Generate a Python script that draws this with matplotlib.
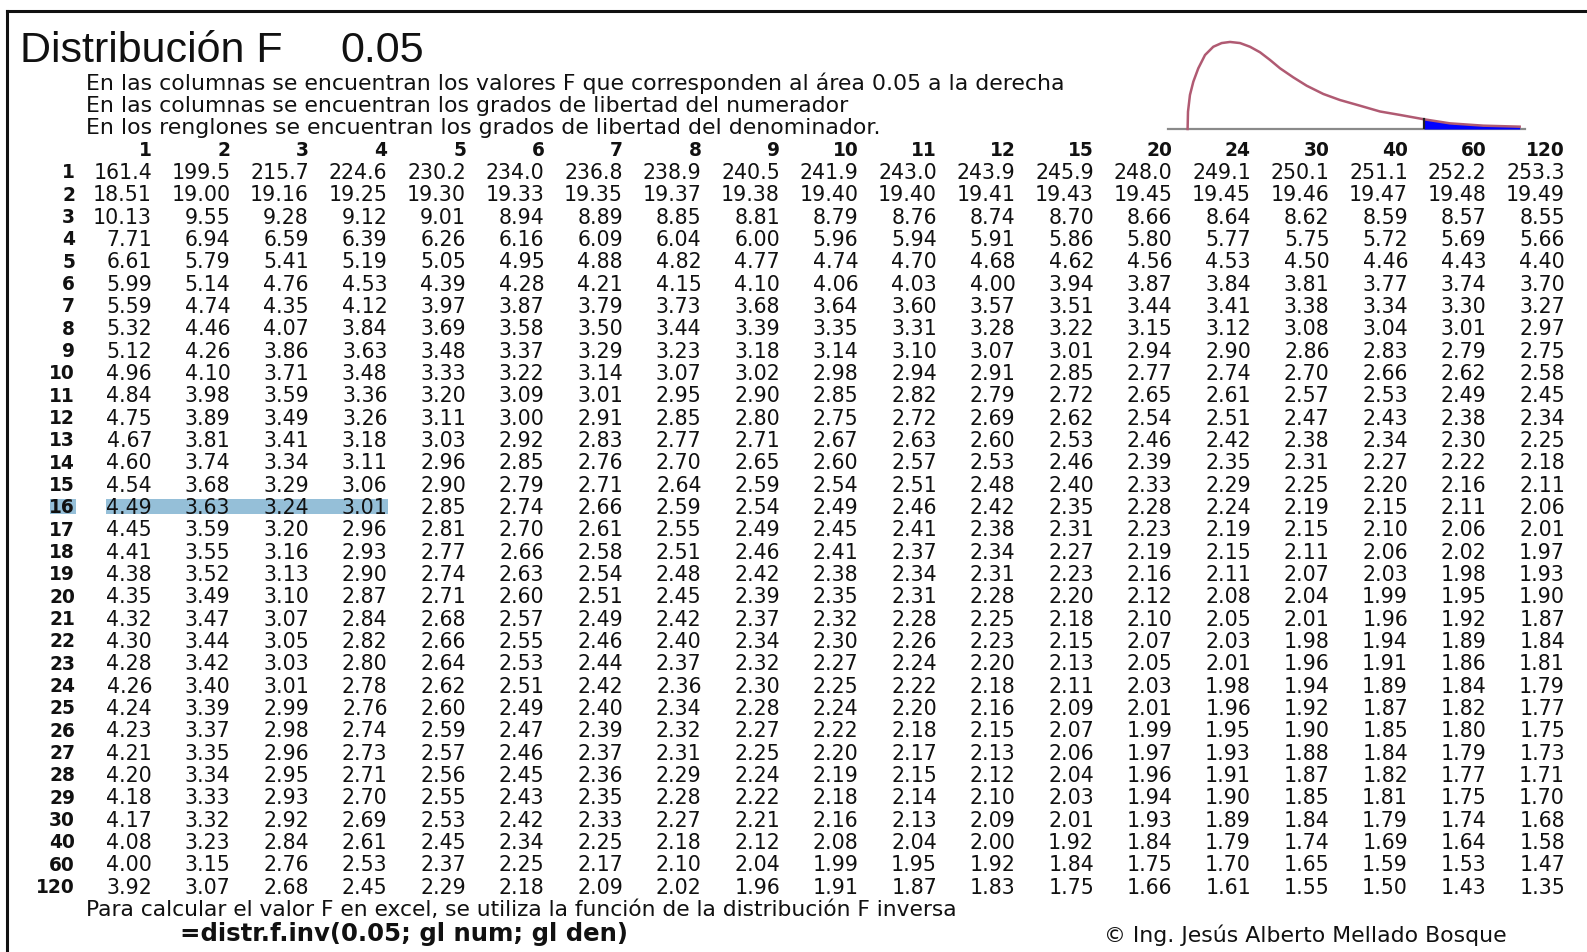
import matplotlib
matplotlib.use("Agg")
import matplotlib.pyplot as plt
from matplotlib.patches import Rectangle
import numpy as np

W, H = 1587, 952

# grados de libertad
num_df = [1, 2, 3, 4, 5, 6, 7, 8, 9, 10, 11, 12, 15, 20, 24, 30, 40, 60, 120]
den_df = list(range(1, 31)) + [40, 60, 120]

f_rows = [
    ["161.4", "199.5", "215.7", "224.6", "230.2", "234.0", "236.8", "238.9", "240.5", "241.9", "243.0", "243.9", "245.9", "248.0", "249.1", "250.1", "251.1", "252.2", "253.3"],
    ["18.51", "19.00", "19.16", "19.25", "19.30", "19.33", "19.35", "19.37", "19.38", "19.40", "19.40", "19.41", "19.43", "19.45", "19.45", "19.46", "19.47", "19.48", "19.49"],
    ["10.13", "9.55", "9.28", "9.12", "9.01", "8.94", "8.89", "8.85", "8.81", "8.79", "8.76", "8.74", "8.70", "8.66", "8.64", "8.62", "8.59", "8.57", "8.55"],
    ["7.71", "6.94", "6.59", "6.39", "6.26", "6.16", "6.09", "6.04", "6.00", "5.96", "5.94", "5.91", "5.86", "5.80", "5.77", "5.75", "5.72", "5.69", "5.66"],
    ["6.61", "5.79", "5.41", "5.19", "5.05", "4.95", "4.88", "4.82", "4.77", "4.74", "4.70", "4.68", "4.62", "4.56", "4.53", "4.50", "4.46", "4.43", "4.40"],
    ["5.99", "5.14", "4.76", "4.53", "4.39", "4.28", "4.21", "4.15", "4.10", "4.06", "4.03", "4.00", "3.94", "3.87", "3.84", "3.81", "3.77", "3.74", "3.70"],
    ["5.59", "4.74", "4.35", "4.12", "3.97", "3.87", "3.79", "3.73", "3.68", "3.64", "3.60", "3.57", "3.51", "3.44", "3.41", "3.38", "3.34", "3.30", "3.27"],
    ["5.32", "4.46", "4.07", "3.84", "3.69", "3.58", "3.50", "3.44", "3.39", "3.35", "3.31", "3.28", "3.22", "3.15", "3.12", "3.08", "3.04", "3.01", "2.97"],
    ["5.12", "4.26", "3.86", "3.63", "3.48", "3.37", "3.29", "3.23", "3.18", "3.14", "3.10", "3.07", "3.01", "2.94", "2.90", "2.86", "2.83", "2.79", "2.75"],
    ["4.96", "4.10", "3.71", "3.48", "3.33", "3.22", "3.14", "3.07", "3.02", "2.98", "2.94", "2.91", "2.85", "2.77", "2.74", "2.70", "2.66", "2.62", "2.58"],
    ["4.84", "3.98", "3.59", "3.36", "3.20", "3.09", "3.01", "2.95", "2.90", "2.85", "2.82", "2.79", "2.72", "2.65", "2.61", "2.57", "2.53", "2.49", "2.45"],
    ["4.75", "3.89", "3.49", "3.26", "3.11", "3.00", "2.91", "2.85", "2.80", "2.75", "2.72", "2.69", "2.62", "2.54", "2.51", "2.47", "2.43", "2.38", "2.34"],
    ["4.67", "3.81", "3.41", "3.18", "3.03", "2.92", "2.83", "2.77", "2.71", "2.67", "2.63", "2.60", "2.53", "2.46", "2.42", "2.38", "2.34", "2.30", "2.25"],
    ["4.60", "3.74", "3.34", "3.11", "2.96", "2.85", "2.76", "2.70", "2.65", "2.60", "2.57", "2.53", "2.46", "2.39", "2.35", "2.31", "2.27", "2.22", "2.18"],
    ["4.54", "3.68", "3.29", "3.06", "2.90", "2.79", "2.71", "2.64", "2.59", "2.54", "2.51", "2.48", "2.40", "2.33", "2.29", "2.25", "2.20", "2.16", "2.11"],
    ["4.49", "3.63", "3.24", "3.01", "2.85", "2.74", "2.66", "2.59", "2.54", "2.49", "2.46", "2.42", "2.35", "2.28", "2.24", "2.19", "2.15", "2.11", "2.06"],
    ["4.45", "3.59", "3.20", "2.96", "2.81", "2.70", "2.61", "2.55", "2.49", "2.45", "2.41", "2.38", "2.31", "2.23", "2.19", "2.15", "2.10", "2.06", "2.01"],
    ["4.41", "3.55", "3.16", "2.93", "2.77", "2.66", "2.58", "2.51", "2.46", "2.41", "2.37", "2.34", "2.27", "2.19", "2.15", "2.11", "2.06", "2.02", "1.97"],
    ["4.38", "3.52", "3.13", "2.90", "2.74", "2.63", "2.54", "2.48", "2.42", "2.38", "2.34", "2.31", "2.23", "2.16", "2.11", "2.07", "2.03", "1.98", "1.93"],
    ["4.35", "3.49", "3.10", "2.87", "2.71", "2.60", "2.51", "2.45", "2.39", "2.35", "2.31", "2.28", "2.20", "2.12", "2.08", "2.04", "1.99", "1.95", "1.90"],
    ["4.32", "3.47", "3.07", "2.84", "2.68", "2.57", "2.49", "2.42", "2.37", "2.32", "2.28", "2.25", "2.18", "2.10", "2.05", "2.01", "1.96", "1.92", "1.87"],
    ["4.30", "3.44", "3.05", "2.82", "2.66", "2.55", "2.46", "2.40", "2.34", "2.30", "2.26", "2.23", "2.15", "2.07", "2.03", "1.98", "1.94", "1.89", "1.84"],
    ["4.28", "3.42", "3.03", "2.80", "2.64", "2.53", "2.44", "2.37", "2.32", "2.27", "2.24", "2.20", "2.13", "2.05", "2.01", "1.96", "1.91", "1.86", "1.81"],
    ["4.26", "3.40", "3.01", "2.78", "2.62", "2.51", "2.42", "2.36", "2.30", "2.25", "2.22", "2.18", "2.11", "2.03", "1.98", "1.94", "1.89", "1.84", "1.79"],
    ["4.24", "3.39", "2.99", "2.76", "2.60", "2.49", "2.40", "2.34", "2.28", "2.24", "2.20", "2.16", "2.09", "2.01", "1.96", "1.92", "1.87", "1.82", "1.77"],
    ["4.23", "3.37", "2.98", "2.74", "2.59", "2.47", "2.39", "2.32", "2.27", "2.22", "2.18", "2.15", "2.07", "1.99", "1.95", "1.90", "1.85", "1.80", "1.75"],
    ["4.21", "3.35", "2.96", "2.73", "2.57", "2.46", "2.37", "2.31", "2.25", "2.20", "2.17", "2.13", "2.06", "1.97", "1.93", "1.88", "1.84", "1.79", "1.73"],
    ["4.20", "3.34", "2.95", "2.71", "2.56", "2.45", "2.36", "2.29", "2.24", "2.19", "2.15", "2.12", "2.04", "1.96", "1.91", "1.87", "1.82", "1.77", "1.71"],
    ["4.18", "3.33", "2.93", "2.70", "2.55", "2.43", "2.35", "2.28", "2.22", "2.18", "2.14", "2.10", "2.03", "1.94", "1.90", "1.85", "1.81", "1.75", "1.70"],
    ["4.17", "3.32", "2.92", "2.69", "2.53", "2.42", "2.33", "2.27", "2.21", "2.16", "2.13", "2.09", "2.01", "1.93", "1.89", "1.84", "1.79", "1.74", "1.68"],
    ["4.08", "3.23", "2.84", "2.61", "2.45", "2.34", "2.25", "2.18", "2.12", "2.08", "2.04", "2.00", "1.92", "1.84", "1.79", "1.74", "1.69", "1.64", "1.58"],
    ["4.00", "3.15", "2.76", "2.53", "2.37", "2.25", "2.17", "2.10", "2.04", "1.99", "1.95", "1.92", "1.84", "1.75", "1.70", "1.65", "1.59", "1.53", "1.47"],
    ["3.92", "3.07", "2.68", "2.45", "2.29", "2.18", "2.09", "2.02", "1.96", "1.91", "1.87", "1.83", "1.75", "1.66", "1.61", "1.55", "1.50", "1.43", "1.35"],
]

# celda resaltada: gl den 16, gl num 4
HL_DEN = 16
HL_NUM = 4

# curva F dibujada arriba a la derecha
curve_x = [0.00, 0.005, 0.03, 0.073, 0.136, 0.222, 0.327, 0.434, 0.540, 0.668, 0.795, 0.923,
           1.050, 1.178, 1.346, 1.517, 1.729, 1.941, 2.196, 2.451, 2.706, 3.01, 3.34, 3.77, 4.23]
curve_y = [0.000, 0.140, 0.276, 0.384, 0.492, 0.600, 0.667, 0.697, 0.706, 0.697, 0.667, 0.622,
           0.560, 0.492, 0.419, 0.351, 0.284, 0.235, 0.189, 0.142, 0.114, 0.079, 0.046, 0.027, 0.019]
F_CRIT = 3.01

TITLE = "Distribución F"
ALPHA_TXT = "0.05"
INFO = [
    "En las columnas se encuentran los valores F que corresponden al área 0.05 a la derecha",
    "En las columnas se encuentran los grados de libertad del numerador",
    "En los renglones se encuentran los grados de libertad del denominador.",
]
FOOT1 = "Para calcular el valor F en excel, se utiliza la función de la distribución F inversa"
FOOT2 = "=distr.f.inv(0.05; gl num; gl den)"
AUTHOR = "© Ing. Jesús Alberto Mellado Bosque"

# geometria de la tabla (pixeles)
COL0, COL_STEP = 152.0, 78.5
ROW0, ROW_STEP = 149.4, 22.33

fig = plt.figure(figsize=(W / 100, H / 100), dpi=100)
fig.patch.set_facecolor("white")

ax = fig.add_axes([0, 0, 1, 1])
ax.axis("off")
ax.set_xlim((0 - COL0) / COL_STEP, (W - COL0) / COL_STEP)
ax.set_ylim((H - ROW0) / ROW_STEP, (0 - ROW0) / ROW_STEP)


def fpos(x, y):
    return x / W, 1 - y / H


NUM_FONT = "DejaVu Sans"
num_size = 14.8
lab_size = 13.4
base_off = 0.33  # baseline below row center (row units)
lab_off = 0.30

# resaltado
hl_i = den_df.index(HL_DEN) + 1
hl_h = 15 / ROW_STEP
ax.add_patch(Rectangle((-0.59, hl_i - hl_h / 2), (HL_NUM - 1) + 0.59, hl_h,
                       facecolor="#95bfd8", edgecolor="none", zorder=0))
ax.add_patch(Rectangle((-1.30, hl_i - hl_h / 2), 0.33, hl_h,
                       facecolor="#95bfd8", edgecolor="none", zorder=0))

# encabezados
for j, d in enumerate(num_df):
    ax.text(j, 0 + lab_off, str(d), ha="right", va="baseline", family=NUM_FONT,
            fontsize=lab_size, fontweight="bold", color="#111111")

for i, (d, row) in enumerate(zip(den_df, f_rows), start=1):
    ax.text(-0.98, i + lab_off, str(d), ha="right", va="baseline", family=NUM_FONT,
            fontsize=lab_size, fontweight="bold", color="#111111")
    for j, v in enumerate(row):
        ax.text(j, i + base_off, v, ha="right", va="baseline", family=NUM_FONT,
                fontsize=num_size, color="#111111")

# textos
TITLE_FONT = "Liberation Sans"
TXT_FONT = "DejaVu Sans"
x, y = fpos(20, 62)
fig.text(x, y, TITLE, family=TITLE_FONT, fontsize=31, va="baseline", color="#111111")
x, y = fpos(340, 62)
fig.text(x, y, ALPHA_TXT, family=TITLE_FONT, fontsize=31, va="baseline", color="#111111")
for k, line in enumerate(INFO):
    x, y = fpos(86, 89.5 + k * 22.3)
    fig.text(x, y, line, family=TXT_FONT, fontsize=15.8, va="baseline", color="#111111")
x, y = fpos(86, 916)
fig.text(x, y, FOOT1, family=TXT_FONT, fontsize=15.7, va="baseline", color="#111111")
x, y = fpos(180, 941)
fig.text(x, y, FOOT2, family=TXT_FONT, fontsize=17.6, fontweight="bold", va="baseline", color="#111111")
x, y = fpos(1104, 942)
fig.text(x, y, AUTHOR, family=TXT_FONT, fontsize=15.8, va="baseline", color="#111111")

# marco
ax.plot([fpos(7, 0)[0], 1], [fpos(0, 11)[1]] * 2, transform=fig.transFigure,
        color="#111111", lw=2.2, clip_on=False)
ax.plot([fpos(7, 0)[0]] * 2, [fpos(0, 11)[1], 0], transform=fig.transFigure,
        color="#111111", lw=2.2, clip_on=False)

# curva
px_per_x = 78.5
px_per_y = 123.3
left, right, base = 1168, 1525, 129
xlo = -(1187.6 - left) / px_per_x
xhi = xlo + (right - left) / px_per_x
ymax = 0.75
cax = fig.add_axes([left / W, (H - base) / H, (right - left) / W, ymax * px_per_y / H])
cax.axis("off")
cax.set_xlim(xlo, xhi)
cax.set_ylim(0, ymax)
cax.plot([xlo, xhi], [0, 0], color="#8a8a8a", lw=1.6, clip_on=False)
cx = np.array(curve_x)
cy = np.array(curve_y)
tail = cx >= F_CRIT
cax.fill_between(cx[tail], 0, cy[tail], color="#0000ff", lw=0, zorder=2)
cax.plot(cx, cy, color="#b05a72", lw=1.8, zorder=3, clip_on=False,
         solid_joinstyle="round")
cax.plot([F_CRIT, F_CRIT], [0, cy[tail][0]], color="#222222", lw=1.6, zorder=4)

fig.savefig("out.png", dpi=100)
